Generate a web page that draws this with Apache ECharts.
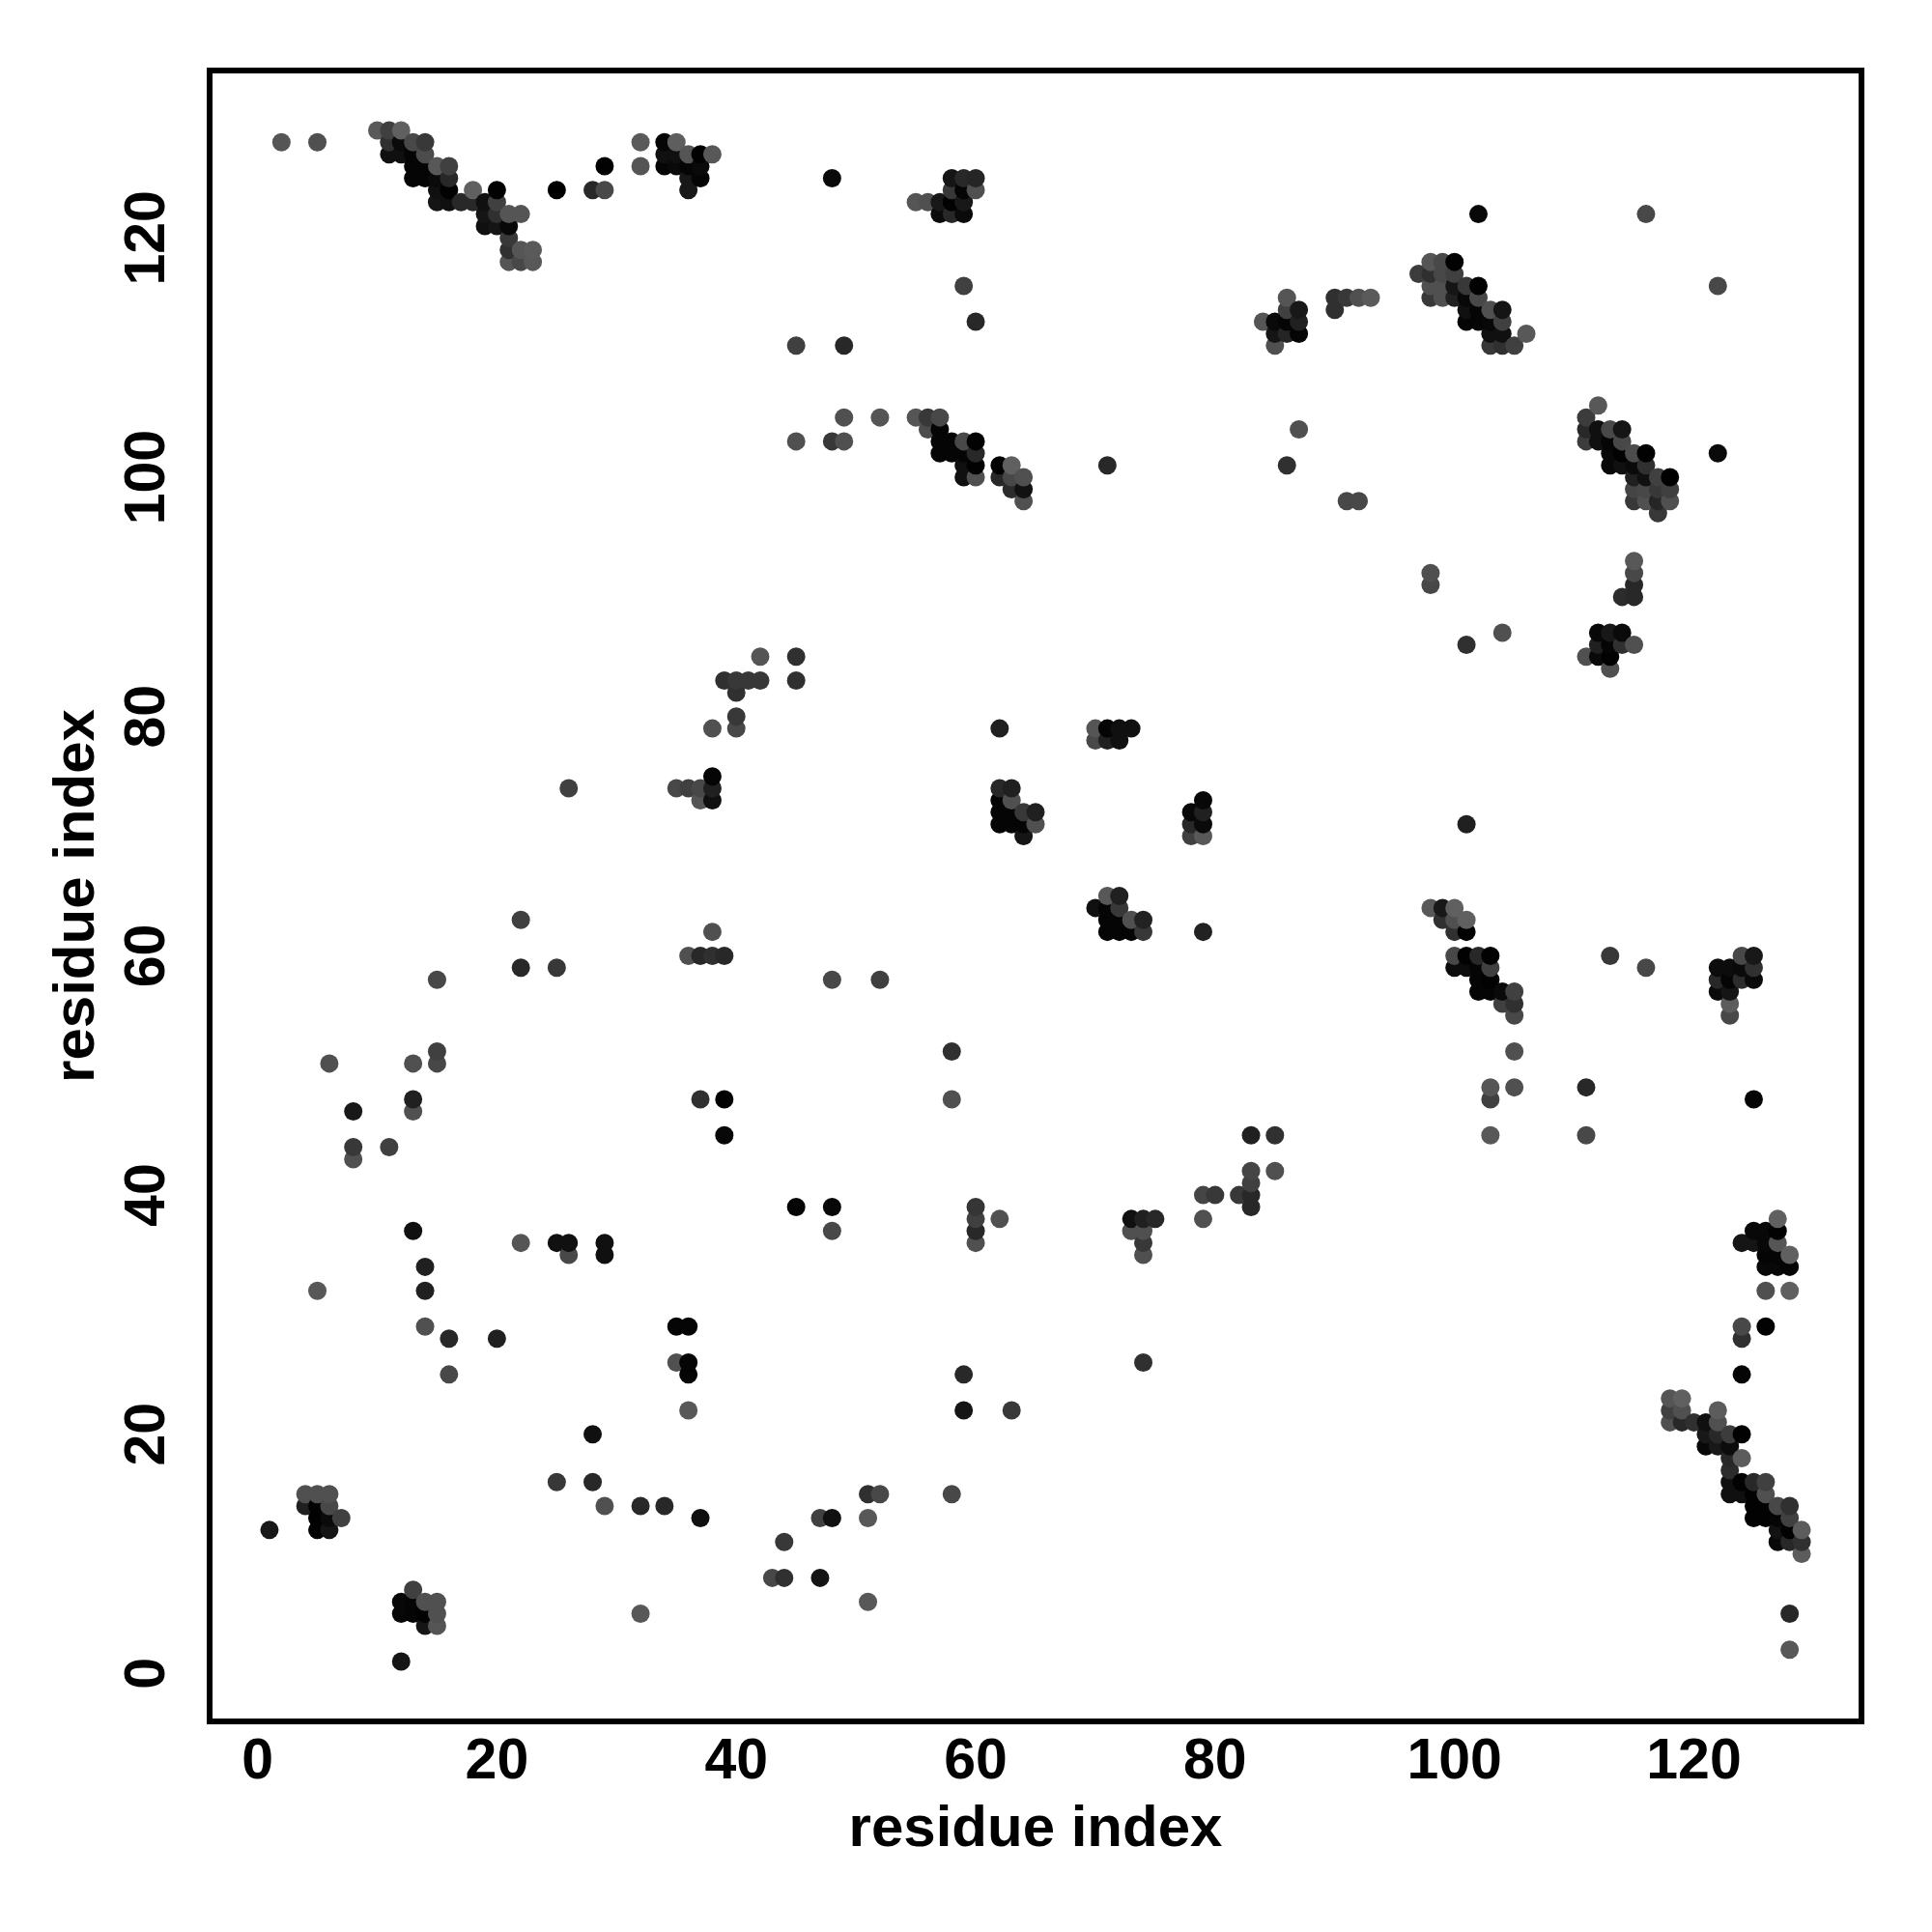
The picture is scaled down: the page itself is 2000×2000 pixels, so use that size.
<!DOCTYPE html>
<html>
<head>
<meta charset="utf-8">
<style>html,body{margin:0;padding:0;background:#fff}#c{width:2000px;height:2000px}</style>
<script src="https://cdn.jsdelivr.net/npm/echarts@6/dist/echarts.min.js"></script>
</head>
<body>
<div id="c"></div>
<script>
// each contact: [residue x, residue y, grey level 0-255]
const clusterTopLeft = [
[2,128,0x55],[5,128,0x50],[10,129,0x5a],[11,129,0x40],[12,129,0x60],[11,128,0x30],[12,128,0x0a],[13,128,0x48],[14,128,0x38],
[11,127,0x10],[12,127,0x10],[13,127,0x05],[14,127,0x4c],[13,126,0x05],[14,126,0x05],[15,126,0x58],[16,126,0x40],
[13,125,0x05],[14,125,0x05],[15,125,0x0a],[16,125,0x28],[15,124,0x10],[16,124,0x02],[18,124,0x60],[20,124,0x02],
[15,123,0x15],[16,123,0x10],[17,123,0x28],[18,123,0x28],[19,123,0x10],[20,123,0x40],[19,122,0x15],[20,122,0x30],[21,122,0x55],[22,122,0x55],
[19,121,0x10],[20,121,0x15],[21,121,0x08],[21,120,0x38],[21,119,0x30],[22,119,0x55],[23,119,0x5a],[21,118,0x55],[22,118,0x48],[23,118,0x58],
[25,124,0x00],[28,124,0x28],[29,124,0x48],[29,126,0x02],[32,128,0x5a],[32,126,0x55],[34,128,0x05],[35,128,0x5e],
[34,127,0x10],[35,127,0x10],[36,127,0x55],[37,127,0x02],[38,127,0x58],[34,126,0x05],[35,126,0x0a],[36,126,0x05],[37,126,0x0a],
[36,125,0x18],[37,125,0x05],[36,124,0x18],[48,125,0x0a]
];
const clusterTopMiddle = [
[55,123,0x55],[56,123,0x50],[57,123,0x18],[57,122,0x0a],[58,125,0x15],[59,125,0x28],[60,125,0x25],[58,124,0x38],[59,124,0x05],[60,124,0x50],
[58,123,0x02],[59,123,0x18],[58,122,0x28],[59,122,0x0a],[59,116,0x40],[60,113,0x28],[45,111,0x40],[49,111,0x28],
[45,103,0x50],[48,103,0x38],[49,103,0x50],[49,105,0x50],[52,105,0x55],[55,105,0x55],[56,105,0x38],[57,105,0x48],[56,104,0x4c],[57,104,0x05],
[57,103,0x05],[58,103,0x05],[59,103,0x48],[60,103,0x02],[57,102,0x05],[58,102,0x05],[59,102,0x05],[60,102,0x28],
[59,101,0x10],[60,101,0x02],[59,100,0x10],[60,100,0x50],[62,101,0x02],[63,101,0x60],[62,100,0x28],[63,100,0x48],[64,100,0x50],
[63,99,0x2c],[64,99,0x12],[64,98,0x50],[71,101,0x28]
];
const clusterTopRight = [
[84,113,0x55],[86,115,0x55],[86,114,0x40],[87,114,0x18],[85,113,0x0a],[86,113,0x05],[87,113,0x20],[85,112,0x15],[86,112,0x25],[87,112,0x05],[85,111,0x50],
[90,115,0x30],[91,115,0x38],[92,115,0x50],[93,115,0x5a],[90,114,0x30],[97,117,0x3c],[98,118,0x55],[99,118,0x48],[100,118,0x02],
[98,117,0x30],[99,117,0x48],[100,117,0x40],[98,116,0x50],[99,116,0x50],[100,116,0x15],[101,116,0x38],[102,116,0x02],
[98,115,0x38],[99,115,0x50],[100,115,0x20],[101,115,0x08],[102,115,0x48],[101,114,0x10],[102,114,0x05],[103,114,0x50],[104,114,0x15],
[101,113,0x05],[102,113,0x05],[103,113,0x08],[104,113,0x40],[103,112,0x10],[104,112,0x10],[103,111,0x38],[104,111,0x30],[105,111,0x40],[106,112,0x58],
[102,122,0x08],[116,122,0x48],[122,116,0x48],[122,102,0x0a],[87,104,0x50],[86,101,0x30],[91,98,0x48],[92,98,0x48]
];
const clusterRightUpper = [
[112,106,0x58],[111,105,0x3c],[111,104,0x28],[112,104,0x10],[113,104,0x48],[114,104,0x15],[111,103,0x3c],[112,103,0x10],[113,103,0x05],[114,103,0x48],
[113,102,0x08],[114,102,0x02],[115,102,0x4c],[116,102,0x02],[113,101,0x08],[114,101,0x10],[115,101,0x0a],[116,101,0x30],
[115,100,0x20],[116,100,0x10],[117,100,0x40],[118,100,0x00],[115,99,0x45],[116,99,0x48],[117,99,0x38],[118,99,0x40],
[115,98,0x38],[116,98,0x50],[117,98,0x25],[118,98,0x50],[117,97,0x38],
[115,93,0x58],[115,92,0x48],[115,91,0x28],[114,90,0x2c],[115,90,0x28],[112,87,0x08],[113,87,0x18],[114,87,0x0a],
[112,86,0x20],[113,86,0x05],[114,86,0x30],[115,86,0x50],[111,85,0x50],[112,85,0x0a],[113,85,0x02],[113,84,0x50],
[98,92,0x50],[98,91,0x48],[101,86,0x30],[104,87,0x50]
];
const clusterCentreLeft = [
[45,85,0x30],[42,85,0x55],[45,83,0x30],[39,83,0x30],[40,83,0x38],[41,83,0x38],[42,83,0x38],[40,82,0x30],[40,80,0x38],[40,79,0x48],[38,79,0x50],
[38,75,0x05],[35,74,0x48],[36,74,0x40],[37,74,0x48],[38,74,0x20],[37,73,0x55],[38,73,0x10],[26,74,0x40],
[36,60,0x50],[37,60,0x28],[38,60,0x30],[39,60,0x28],[38,62,0x50],[22,63,0x40],[22,59,0x28],[25,59,0x38],[15,58,0x48],[48,58,0x48],[52,58,0x40],
[15,52,0x40],[15,51,0x48],[13,51,0x50],[6,51,0x50],[13,48,0x20],[13,47,0x50],[8,47,0x18],[8,44,0x38],[8,43,0x50],[11,44,0x40],
[37,48,0x30],[39,48,0x02],[39,45,0x08]
];
const clusterCentre = [
[62,79,0x20],[62,74,0x28],[63,74,0x20],[62,73,0x05],[63,73,0x50],[62,72,0x05],[63,72,0x05],[64,72,0x38],[65,72,0x20],
[62,71,0x05],[63,71,0x05],[64,71,0x05],[65,71,0x50],[64,70,0x15],[79,73,0x08],[78,72,0x08],[79,72,0x20],[78,71,0x28],[79,71,0x0a],[78,70,0x40],[79,70,0x58],
[71,65,0x58],[72,65,0x20],[70,64,0x10],[71,64,0x05],[72,64,0x38],[71,63,0x05],[72,63,0x05],[73,63,0x50],[74,63,0x22],
[71,62,0x05],[72,62,0x05],[73,62,0x05],[74,62,0x38],[79,62,0x22],[70,79,0x55],[70,78,0x48],[71,79,0x05],[72,79,0x10],[73,79,0x10],[71,78,0x20],[72,78,0x10],
[58,52,0x30],[58,48,0x50]
];
const clusterCentreRight = [
[101,71,0x20],[98,64,0x58],[99,64,0x18],[100,64,0x60],[99,63,0x30],[100,63,0x50],[101,63,0x60],[100,62,0x30],[101,62,0x02],
[100,60,0x48],[101,60,0x02],[102,60,0x28],[103,60,0x02],[100,59,0x0c],[101,59,0x0c],[102,59,0x05],[103,59,0x40],[102,58,0x05],[103,58,0x02],
[102,57,0x05],[103,57,0x05],[104,57,0x0a],[105,57,0x40],[104,56,0x40],[105,56,0x30],[105,55,0x48],[113,60,0x38],[116,59,0x48],
[122,59,0x0c],[123,59,0x0c],[124,59,0x0a],[125,59,0x30],[124,60,0x48],[125,60,0x18],[122,58,0x28],[123,58,0x05],[124,58,0x2c],[125,58,0x0a],
[122,57,0x0a],[123,57,0x15],[123,56,0x5c],[123,55,0x48],[105,52,0x50],[103,49,0x55],[105,49,0x50],[103,48,0x40],[111,49,0x28],[125,48,0x05],[103,45,0x58],[111,45,0x48]
];
const clusterLowerMiddle = [
[83,45,0x20],[85,45,0x30],[85,42,0x50],[83,42,0x45],[83,41,0x40],[82,40,0x38],[83,40,0x28],[83,39,0x28],[79,40,0x45],[80,40,0x38],[79,38,0x50],
[45,39,0x05],[48,39,0x08],[48,37,0x48],[60,39,0x35],[60,38,0x40],[60,37,0x28],[60,36,0x50],[62,38,0x50],
[73,38,0x10],[74,38,0x20],[75,38,0x28],[73,37,0x50],[74,37,0x50],[74,36,0x38],[74,35,0x50],[74,26,0x30],
[59,25,0x28],[59,22,0x15],[63,22,0x38],[35,29,0x05],[36,29,0x05],[35,26,0x50],[36,26,0x05],[36,25,0x05],[36,22,0x58]
];
const clusterLowerLeft = [
[13,37,0x10],[14,34,0x20],[14,32,0x20],[14,29,0x50],[16,28,0x28],[20,28,0x20],[16,25,0x48],[22,36,0x55],[25,36,0x10],[26,36,0x10],[26,35,0x48],[29,36,0x10],[29,35,0x10],[5,32,0x58],
[28,20,0x10],[25,16,0x38],[28,16,0x28],[29,14,0x50],[32,14,0x28],[34,14,0x28],[37,13,0x10],[47,13,0x40],[48,13,0x10],[51,15,0x30],[52,15,0x48],[51,13,0x58],[58,15,0x48],
[44,11,0x38],[43,8,0x48],[44,8,0x30],[47,8,0x15],[51,6,0x58],[32,5,0x58],[1,12,0x18],[12,1,0x15],
[4,15,0x50],[5,15,0x50],[6,15,0x50],[4,14,0x20],[5,14,0x02],[6,14,0x48],[5,13,0x02],[6,13,0x0a],[7,13,0x40],[5,12,0x02],[6,12,0x15],
[13,7,0x40],[12,6,0x08],[13,6,0x05],[14,6,0x50],[15,6,0x50],[12,5,0x08],[13,5,0x05],[14,5,0x02],[15,5,0x50],[14,4,0x15],[15,4,0x55]
];
const clusterLowerRight = [
[127,38,0x60],[125,37,0x08],[126,37,0x08],[127,37,0x02],[124,36,0x15],[125,36,0x15],[126,36,0x08],[127,36,0x55],[126,35,0x05],[127,35,0x05],[128,35,0x60],
[126,34,0x08],[127,34,0x08],[128,34,0x05],[126,32,0x50],[128,32,0x60],[124,29,0x48],[126,29,0x02],[124,28,0x30],[124,25,0x05],
[118,23,0x55],[119,23,0x60],[118,22,0x40],[119,22,0x50],[118,21,0x50],[119,21,0x28],[120,21,0x30],[121,21,0x10],[122,22,0x5c],[122,21,0x50],
[121,20,0x18],[122,20,0x28],[123,20,0x3c],[124,20,0x02],[121,19,0x08],[122,19,0x18],[123,19,0x0c],[123,18,0x28],[124,18,0x5c],[123,17,0x2c],
[123,16,0x10],[124,16,0x02],[125,16,0x28],[126,16,0x40],[123,15,0x10],[124,15,0x10],[125,15,0x02],[126,15,0x50],
[125,14,0x02],[126,14,0x02],[127,14,0x48],[128,14,0x30],[125,13,0x02],[126,13,0x02],[127,13,0x05],[128,13,0x40],
[127,12,0x12],[128,12,0x02],[129,12,0x5c],[127,11,0x08],[128,11,0x28],[129,11,0x30],[129,10,0x5c],[128,5,0x28],[128,2,0x58]
];
const tickValues = [0,20,40,60,80,100,120];
const axisTitle = "residue index";

const contacts = [].concat(clusterTopLeft,clusterTopMiddle,clusterTopRight,clusterRightUpper,clusterCentreLeft,
  clusterCentre,clusterCentreRight,clusterLowerMiddle,clusterLowerLeft,clusterLowerRight)
  .sort((a,b)=>a[0]-b[0]||a[1]-b[1]);

const font = '"Liberation Sans", Arial, sans-serif';
function axis(rotate, labelMargin, nameGap){
  return {
    type:'value', min:-4, max:134, name:axisTitle, nameLocation:'middle', nameGap:nameGap,
    nameRotate: rotate,
    nameTextStyle:{fontFamily:font,fontWeight:'bold',fontSize:60,color:'#000'},
    splitLine:{show:false}, axisTick:{show:false},
    axisLine:{show:false},
    axisLabel:{customValues:tickValues,rotate:rotate,margin:labelMargin,fontFamily:font,fontWeight:'bold',fontSize:59,color:'#000',
      showMinLabel:true,showMaxLabel:true}
  };
}
const chart = echarts.init(document.getElementById('c'),null,{renderer:'canvas',width:2000,height:2000});
chart.setOption({
  animation:false,
  backgroundColor:'#fff',
  grid:{left:217,right:73,top:73,bottom:218,show:true,borderColor:'#000',borderWidth:6,backgroundColor:'transparent'},
  xAxis:axis(0,13,82),
  yAxis:axis(90,34,107),
  series:[{
    type:'scatter',symbol:'circle',symbolSize:19,silent:true,
    large:false,progressive:0,
    data:contacts.map(c=>({value:[c[0],c[1]],itemStyle:{color:`rgb(${c[2]},${c[2]},${c[2]})`,opacity:1}})),
    emphasis:{disabled:true}
  }]
});
</script>
</body>
</html>
